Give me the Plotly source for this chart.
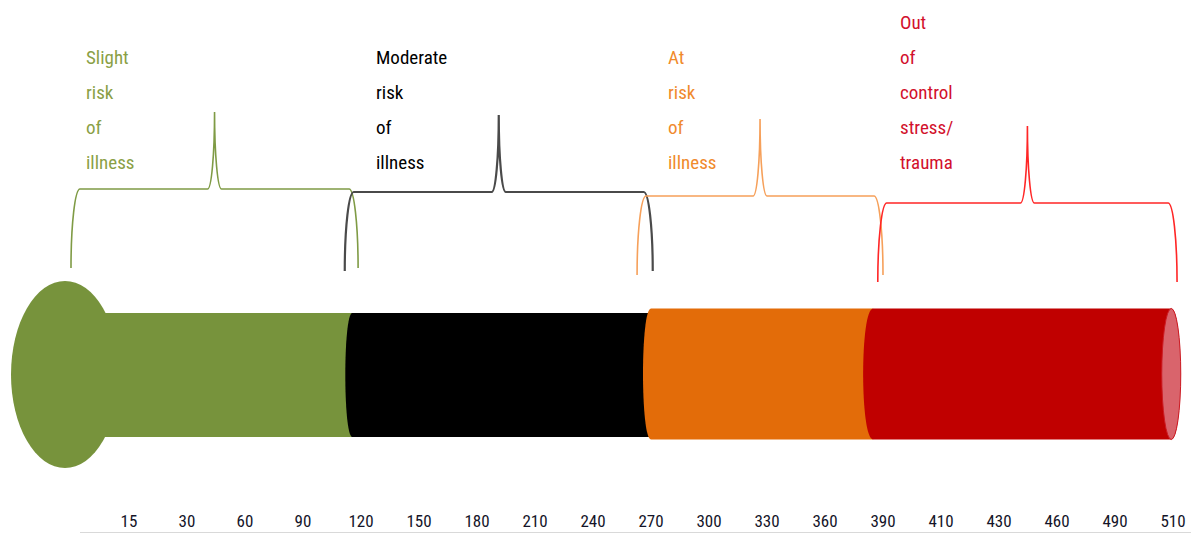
import plotly.graph_objects as go

# scale shown under the tube (evenly spaced, so the axis runs on the label index)
tick_labels = ["15", "30", "60", "90", "120", "150", "180", "210", "240", "270",
               "300", "330", "360", "390", "410", "430", "460", "490", "510"]

bands = ["Slight risk of illness", "Moderate risk of illness",
         "At risk of illness", "Out of control stress/ trauma"]
band_end = [3.85, 9.0, 12.83, 17.97]      # where each colour stops, in tick-index units
brace_from = [-1.0, 3.72, 8.76, 12.91]
brace_to = [3.95, 9.03, 13.0, 18.07]
label_x = [-0.77, 4.23, 9.25, 13.26]

bar_colors = ["#77933c", "#000000", "#e36c09", "#c00000"]
brace_colors = ["#7f9b45", "#4a4a4a", "#f6a05a", "#ff2626"]
text_colors = ["#8a9f45", "#000000", "#f08a2c", "#d2102c"]

PX = 58.0  # pixels per tick step
FONT = "Roboto Condensed, Liberation Sans Narrow, Arial Narrow, Liberation Sans, Arial, sans-serif"


def u(px):
    return px / PX


def half_ellipse_left(x, top, bot, w):
    # left side of a segment, bulging left by w
    return f"C {x - 4 / 3 * w},{bot} {x - 4 / 3 * w},{top} {x},{top}"


def brace_path(x0, x1, y_line, drop, rise, r=u(9), c=u(7)):
    k = 0.5523
    xm = (x0 + x1) / 2
    p = f"M {x0},{y_line + drop} "
    p += f"C {x0},{y_line + drop - k * drop} {x0 + r - k * r},{y_line} {x0 + r},{y_line} "
    p += f"L {xm - c},{y_line} "
    p += f"C {xm - c + k * c},{y_line} {xm},{y_line - rise + k * rise} {xm},{y_line - rise} "
    p += f"C {xm},{y_line - rise + k * rise} {xm + c - k * c},{y_line} {xm + c},{y_line} "
    p += f"L {x1 - r},{y_line} "
    p += f"C {x1 - r + k * r},{y_line} {x1},{y_line + drop - k * drop} {x1},{y_line + drop}"
    return p


fig = go.Figure()
shapes = []

# tube geometry (pixel rows, y axis runs top-down)
tube_top = [313, 313, 308.5, 308.5]
tube_bot = [437, 437, 439.5, 439.5]
bulge = [0, u(7), u(8), u(10)]

# bulb
bulb_cx, bulb_w = u(65 - 129), u(54)
shapes.append(dict(type="circle", xref="x", yref="y",
                   x0=bulb_cx - bulb_w, x1=bulb_cx + bulb_w, y0=281, y1=468,
                   fillcolor=bar_colors[0], line=dict(width=0), layer="above"))

starts = [bulb_cx] + band_end[:-1]
for i in range(len(bands)):
    x0, x1 = starts[i], band_end[i]
    t, b = tube_top[i], tube_bot[i]
    if i == 0:
        path = f"M {x0},{t} L {x1},{t} L {x1},{b} L {x0},{b} Z"
    else:
        path = f"M {x0},{t} L {x1},{t} L {x1},{b} L {x0},{b} " + half_ellipse_left(x0, t, b, bulge[i]) + " Z"
    if i == len(bands) - 1:
        w = u(9)
        path = (f"M {x0},{t} L {x1},{t} C {x1 + 4 / 3 * w},{t} {x1 + 4 / 3 * w},{b} {x1},{b} "
                f"L {x0},{b} " + half_ellipse_left(x0, t, b, bulge[i]) + " Z")
    shapes.append(dict(type="path", xref="x", yref="y", path=path,
                       fillcolor=bar_colors[i], line=dict(width=0), layer="above"))

# lighter end cap of the cylinder
cap_w = u(9.5)
shapes.append(dict(type="circle", xref="x", yref="y",
                   x0=band_end[-1] - cap_w, x1=band_end[-1] + cap_w,
                   y0=tube_top[-1], y1=tube_bot[-1],
                   fillcolor="#d9646c", line=dict(color="#cc1a22", width=1), layer="above"))

# braces
brace_line = [189, 192, 196, 203]
for i in range(len(bands)):
    shapes.append(dict(type="path", xref="x", yref="y",
                       path=brace_path(brace_from[i], brace_to[i], brace_line[i], 79, 77),
                       line=dict(color=brace_colors[i], width=1.6 if i != 1 else 2.2),
                       layer="above"))

# baseline under the labels
shapes.append(dict(type="line", xref="x", yref="y", x0=u(80 - 129), x1=u(1191 - 129),
                   y0=532.5, y1=532.5, line=dict(color="#d9d9d9", width=1)))

annotations = []
for i, label in enumerate(bands):
    words = label.split()
    n = len(words)
    for j, word in enumerate(words):
        annotations.append(dict(x=label_x[i], y=162 - (n - 1 - j) * 35, text=word,
                                xref="x", yref="y", xanchor="left", yanchor="middle",
                                showarrow=False,
                                font=dict(family=FONT, size=19, color=text_colors[i])))

fig.update_layout(
    width=1191, height=535,
    margin=dict(l=0, r=0, t=0, b=2),
    paper_bgcolor="white", plot_bgcolor="white",
    showlegend=False,
    shapes=shapes, annotations=annotations,
    xaxis=dict(range=[u(-129), u(1191 - 129)], tickvals=list(range(len(tick_labels))),
               ticktext=tick_labels, ticklabelposition="inside", ticks="",
               showgrid=False, zeroline=False, showline=False, fixedrange=True,
               tickfont=dict(family=FONT, size=17, color="#141428")),
    yaxis=dict(range=[533, 0], visible=False, fixedrange=True),
)

# the page's default body margin would push the 1191x535 figure off the window
fig.write_html("out.html", config={"displayModeBar": False},
               post_script="document.body.style.margin='0';")
